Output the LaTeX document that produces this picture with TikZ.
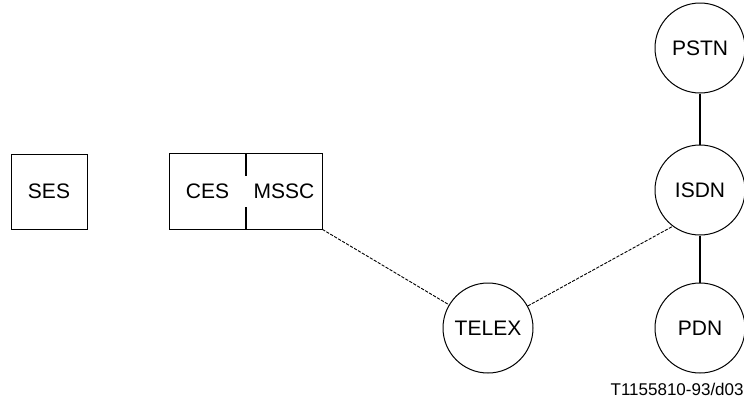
\documentclass[tikz,border=0pt]{standalone}
\usepackage{fontspec}
\setmainfont{Liberation Sans}
\usepackage{tikz}
\usetikzlibrary{shapes,arrows}
\tikzset{
    every node/.style={font=\fontsize{10.5}{12}\selectfont}
}

\begin{document}
\begin{tikzpicture}[x=0.5pt,y=-0.5pt]
            % Define styles for boxes, networks and links
            \tikzstyle{unitbox} = [rectangle, inner sep=0pt,
                minimum width=38pt, minimum height=37.5pt]
            \tikzstyle{network} = [circle, draw, line width=0.5pt, inner sep=0pt,
                minimum size=45pt]
            \tikzstyle{trunk} = [line width=0.9pt]
            \tikzstyle{link} = [line width=0.45pt, dash pattern=on 1.6pt off 0.7pt]
            \useasboundingbox (0,0) rectangle (744,398);

            % Draw ship earth station
            \node[unitbox, draw, line width=0.5pt] (ses) at (49,191.5) {SES};

            % Draw coast earth station with its switching centre
            \node[unitbox] (ces) at (207.5,191.5) {CES};
            \node[unitbox] (mssc) at (284,191.5) {MSSC};
            \draw[line width=0.5pt] (ces.north west) rectangle (mssc.south east);
            \draw[trunk] (ces.north east) -- ++(0,22);
            \draw[trunk] (ces.south east) -- ++(0,-22);

            % Draw networks
            \node[network] (pstn) at (700,48) {PSTN};
            \node[network] (isdn) at (700,190) {ISDN};
            \node[network] (pdn) at (700,328) {PDN};
            \node[network] (telex) at (488,328) {TELEX};

            % Draw connections
            \draw[trunk] (pstn) -- (isdn);
            \draw[trunk] (isdn) -- (pdn);
            \draw[link] (mssc.south east) -- (telex);
            \draw[link] (telex.29) -- (isdn.233);

            % Add figure reference
            \node[anchor=base east, inner sep=0pt, font=\fontsize{8.5}{10}\selectfont]
                (ref) at (744,395) {T1155810-93/d03};
        \end{tikzpicture}
\end{document}
